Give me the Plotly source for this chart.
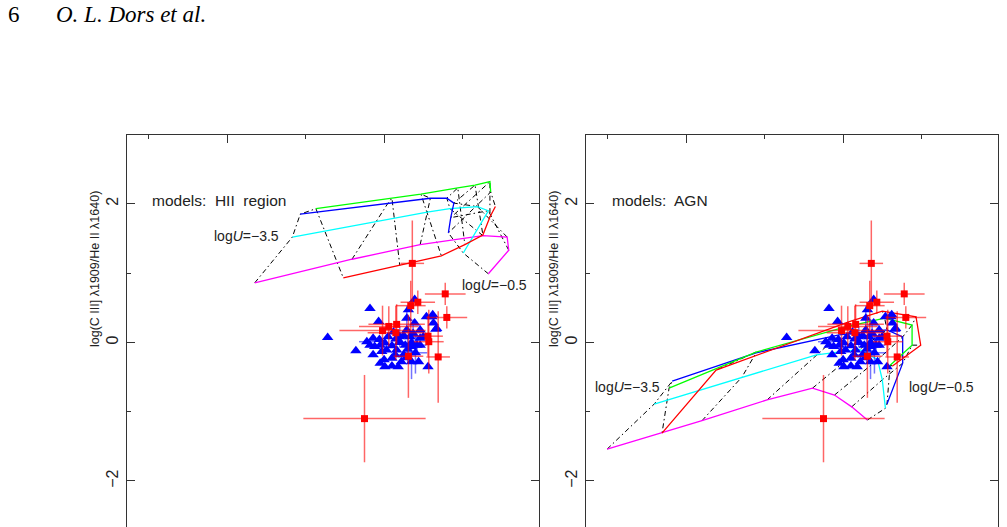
import plotly.graph_objects as go

# ---------------- data ----------------
logU_labels = ["-3.5", "-3.0", "-2.5", "-2.0", "-1.5", "-1.0", "-0.5"]
model_colors = ["#ff00ff", "#00ffff", "#0000ff", "#00ff00", "#ff0000"]

# HII-region models (x, y per colour sequence, 7 logU points each)
hii_mag_x = [0.35, 1.59, 2.46, 3.26, 3.57, 3.59, 3.33]
hii_mag_y = [0.86, 1.20, 1.41, 1.54, 1.52, 1.33, 0.99]
hii_cya_x = [0.83, 1.90, 2.55, 2.84, 3.19, 3.33, 3.01]
hii_cya_y = [1.52, 1.75, 1.88, 1.93, 1.96, 1.90, 1.29]
hii_blu_x = [0.93, 2.05, 2.59, 2.80, 2.89, 2.85, 2.82]
hii_blu_y = [1.85, 2.01, 2.08, 2.08, 2.01, 1.80, 1.58]
hii_grn_x = [1.13, 2.10, 2.47, 2.94, 3.16, 3.35, 3.36]
hii_grn_y = [1.93, 2.08, 2.14, 2.23, 2.27, 2.32, 2.17]
hii_red_x = [1.48, 2.20, 2.73, 3.03, 3.26, 3.35, 3.42]
hii_red_y = [0.93, 1.11, 1.25, 1.41, 1.55, 1.81, 1.96]

# AGN models
agn_mag_x = [-1.01, 0.20, 1.03, 1.61, 1.89, 2.11, 2.31]
agn_mag_y = [-1.54, -1.13, -0.83, -0.66, -0.76, -0.93, -1.12]
agn_cya_x = [-0.41, 0.71, 1.66, 2.21, 2.44, 2.50, 2.54]
agn_cya_y = [-0.89, -0.50, -0.18, -0.10, -0.25, -0.54, -0.95]
agn_blu_x = [-0.18, 0.89, 1.95, 2.56, 2.76, 2.76, 2.56]
agn_blu_y = [-0.56, -0.15, 0.11, 0.18, 0.08, -0.30, -0.89]
agn_grn_x = [-0.22, 0.89, 2.02, 2.53, 2.88, 2.88, 2.60]
agn_grn_y = [-0.66, -0.14, 0.22, 0.35, 0.25, -0.04, -0.33]
agn_red_x = [-0.31, 0.38, 2.08, 2.50, 2.93, 2.99, 2.63]
agn_red_y = [-1.31, -0.40, 0.30, 0.45, 0.37, -0.04, -0.34]

# observed objects: red squares with errors
sq_x = [2.78, 2.80, 2.34, 2.43, 1.98, 2.06, 2.16, 2.15, 2.56, 2.57, 2.31, 2.69, 1.75, 2.36]
sq_y = [0.70, 0.36, 0.53, 0.58, 0.17, 0.23, 0.26, 0.14, 0.09, 0.01, -0.20, -0.21, -1.10, 1.14]
sq_ex = [0.26, 0.26, 0.19, 0.22, 0.55, 0.38, 0.36, 0.36, 0.19, 0.19, 0.19, 0.15, 0.78, 0.15]
sq_ey = [0.16, 0.16, 0.36, 0.17, 0.36, 0.29, 0.29, 0.39, 0.29, 0.46, 0.60, 0.66, 0.63, 0.62]

# observed objects: blue triangles
tri_x = [1.82, 1.28, 1.64, 2.39, 1.93, 1.86, 1.78, 1.88, 1.86, 1.97,
         2.01, 2.10, 2.18, 2.22, 2.10, 2.20, 2.20, 2.27, 2.35, 2.42,
         2.46, 2.29, 2.31, 2.39, 2.46, 2.54, 2.61, 2.63, 2.67, 2.56,
         2.16, 2.25, 2.35, 2.44, 2.01, 2.05, 2.12, 2.33, 2.37, 2.46,
         2.50, 2.14, 2.03, 1.95, 2.29, 1.82, 1.94, 2.62, 2.66, 2.20,
         2.25, 2.35, 2.10, 2.40, 2.30, 2.15, 2.28, 2.00, 1.95]
tri_y = [0.49, 0.07, -0.12, 0.62, 0.30, 0.06, 0.01, -0.06, -0.18, -0.13,
         -0.35, -0.34, -0.35, -0.28, -0.23, 0.01, 0.08, -0.04, -0.06, -0.04,
         -0.04, 0.35, 0.47, 0.28, 0.18, 0.37, 0.37, 0.28, 0.20, -0.35,
         -0.11, -0.18, -0.28, -0.28, -0.01, 0.08, 0.15, 0.08, 0.13, 0.06,
         0.08, -0.18, -0.11, -0.04, 0.18, -0.04, 0.04, 0.40, 0.19, 0.00,
         0.10, 0.00, -0.05, -0.15, -0.10, 0.05, -0.22, -0.25, -0.30]
tri_ex = [0, 0, 0, 0, 0, 0, 0.10, 0, 0, 0,
          0, 0, 0, 0, 0, 0, 0, 0, 0, 0.12,
          0, 0, 0, 0, 0, 0, 0, 0, 0, 0,
          0, 0.15, 0, 0, 0, 0, 0, 0.10, 0, 0,
          0, 0, 0, 0, 0, 0, 0, 0, 0, 0,
          0, 0, 0, 0.15, 0, 0, 0, 0, 0]
tri_ey = [0, 0, 0, 0, 0, 0, 0, 0, 0, 0,
          0, 0, 0, 0, 0, 0, 0.15, 0, 0, 0.14,
          0, 0.18, 0, 0, 0, 0, 0, 0, 0, 0,
          0, 0, 0.25, 0, 0, 0, 0, 0, 0.2, 0,
          0, 0, 0, 0, 0, 0, 0, 0, 0, 0,
          0, 0, 0, 0.3, 0.2, 0, 0, 0, 0]

panels = [
    ("x", "y", "models: HII region",
     [(hii_mag_x, hii_mag_y), (hii_cya_x, hii_cya_y), (hii_blu_x, hii_blu_y),
      (hii_grn_x, hii_grn_y), (hii_red_x, hii_red_y)]),
    ("x2", "y2", "models: AGN",
     [(agn_mag_x, agn_mag_y), (agn_cya_x, agn_cya_y), (agn_blu_x, agn_blu_y),
      (agn_grn_x, agn_grn_y), (agn_red_x, agn_red_y)]),
]

fig = go.Figure()

for xa, ya, name, seqs in panels:
    # iso-logU dash-dot lines
    for i in range(len(logU_labels)):
        fig.add_trace(go.Scatter(
            x=[s[0][i] for s in seqs], y=[s[1][i] for s in seqs],
            mode="lines", line=dict(color="black", width=1, dash="5px,3px,1.5px,3px"),
            xaxis=xa, yaxis=ya, showlegend=False, hoverinfo="skip"))
    # coloured sequences
    for (sx, sy), col in zip(seqs, model_colors):
        fig.add_trace(go.Scatter(
            x=sx, y=sy, mode="lines", line=dict(color=col, width=1.3),
            xaxis=xa, yaxis=ya, showlegend=False, hoverinfo="skip"))
    # triangles
    fig.add_trace(go.Scatter(
        x=tri_x, y=tri_y, mode="markers",
        marker=dict(symbol="triangle-up", size=10, color="#0000ff"),
        error_x=dict(type="data", array=tri_ex, color="rgba(0,0,255,0.55)", thickness=1.5, width=0),
        error_y=dict(type="data", array=tri_ey, color="rgba(0,0,255,0.55)", thickness=1.5, width=0),
        xaxis=xa, yaxis=ya, showlegend=False))
    # squares
    fig.add_trace(go.Scatter(
        x=sq_x, y=sq_y, mode="markers",
        marker=dict(symbol="square", size=7, color="#ff0000"),
        error_x=dict(type="data", array=sq_ex, color="rgba(255,0,0,0.6)", thickness=1.5, width=0),
        error_y=dict(type="data", array=sq_ey, color="rgba(255,0,0,0.6)", thickness=1.5, width=0),
        xaxis=xa, yaxis=ya, showlegend=False))

W, H = 1007, 527
top_px = 134.5
xr = [-1.286, 3.976]
yr = [-2.664, 3.0]
frame = "#333333"

def xax(dom):
    return dict(domain=dom, range=xr, side="top", showline=True, linecolor=frame, linewidth=1.3,
                ticks="inside", ticklen=8, tickwidth=1.2, tickcolor=frame, tick0=0, dtick=2,
                minor=dict(dtick=1, ticks="inside", ticklen=4, tickcolor=frame, tickwidth=1.2),
                showticklabels=False, showgrid=False, zeroline=False)

def yax(anchor):
    return dict(domain=[0, (H - top_px) / H], range=yr, anchor=anchor, showline=True, mirror="ticks",
                linecolor=frame, linewidth=1.3, ticks="inside", ticklen=8, tickwidth=1.2,
                tickcolor=frame, tick0=0, dtick=2,
                minor=dict(dtick=1, ticks="inside", ticklen=4, tickcolor=frame, tickwidth=1.2),
                tickangle=-90, ticklabelstandoff=1,
                tickfont=dict(family="Liberation Sans", size=16, color="#222"),
                showgrid=False, zeroline=False)

fig.update_layout(
    width=W, height=H, margin=dict(l=0, r=0, t=0, b=0, pad=0),
    paper_bgcolor="white", plot_bgcolor="white",
    xaxis=xax([126.5 / W, 539 / W]), yaxis=yax("x"),
    xaxis2=xax([585.5 / W, 998 / W]), yaxis2=yax("x2"),
)
fig.layout.xaxis.anchor = "y"
fig.layout.xaxis2.anchor = "y2"

def px(x):
    return x / W

def py(y):
    return 1 - y / H

ann = []
txtfont = dict(family="Liberation Sans", size=14, color="#222")
bigfont = dict(family="Liberation Sans", size=15.5, color="#222")
# header
ann.append(dict(x=px(6), y=py(15), xref="paper", yref="paper", xanchor="left", yanchor="middle",
                text="6", showarrow=False, font=dict(family="Liberation Serif", size=23, color="black")))
ann.append(dict(x=px(54), y=py(15), xref="paper", yref="paper", xanchor="left", yanchor="middle",
                text="<i>O. L. Dors et al.</i>", showarrow=False,
                font=dict(family="Liberation Serif", size=23, color="black")))
# y titles
for xt in (95, 554):
    ann.append(dict(x=px(xt), y=py(269), xref="paper", yref="paper", xanchor="center", yanchor="middle",
                    text="log(C III] λ1909/He II λ1640)", textangle=-90, showarrow=False,
                    font=dict(family="Liberation Sans", size=12.5, color="#222")))
# panel texts
ann.append(dict(x=px(150), y=py(200), xref="paper", yref="paper", xanchor="left", yanchor="middle",
                text="models:  HII  region", showarrow=False, font=bigfont))
ann.append(dict(x=px(610), y=py(200), xref="paper", yref="paper", xanchor="left", yanchor="middle",
                text="models:  AGN", showarrow=False, font=bigfont))
for xl, yl in ((212, 236), (460, 285), (593, 387), (907, 387)):
    lab = "−3.5" if xl in (212, 593) else "−0.5"
    ann.append(dict(x=px(xl), y=py(yl), xref="paper", yref="paper", xanchor="left", yanchor="middle",
                    text="log<i>U</i>=" + lab, showarrow=False, font=txtfont))
fig.update_layout(annotations=ann)

fig.write_html("out.html")
